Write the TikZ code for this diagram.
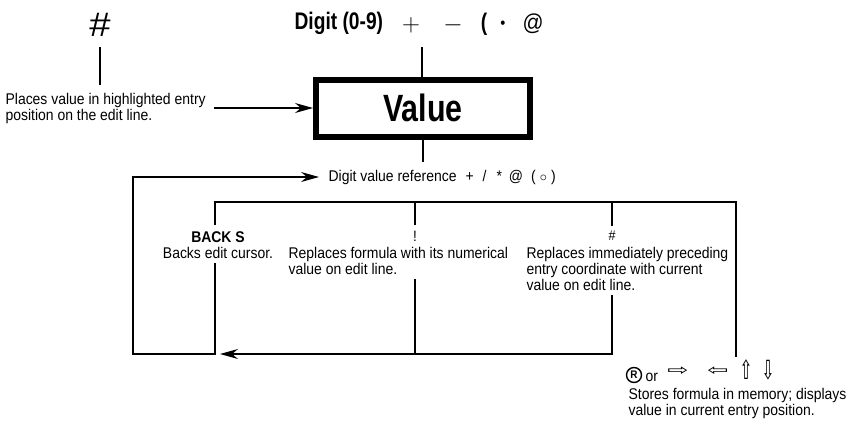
\documentclass[tikz,border=0pt]{standalone}
\usepackage{fontspec}
\setmainfont{Liberation Sans}[FakeStretch=0.9]
\newfontfamily\condfont{Liberation Sans}[FakeStretch=0.8]
\newfontfamily\symfont{DejaVu Sans}
\newfontfamily\lmfont{Latin Modern Roman}
\usetikzlibrary{arrows.meta}
\begin{document}
\begin{tikzpicture}[x=1pt,y=-1pt,line width=1.2pt,
  txt/.style={inner sep=0pt,font=\fontsize{15.5}{16}\selectfont,align=left},
  ctxt/.style={txt,align=center},
  sym/.style={inner sep=0pt},
  arr/.style={-{Stealth[length=18pt,width=10pt,inset=6pt]}}]
\fill[white] (0,0) rectangle (859,421);
\useasboundingbox (0,0) rectangle (859,421);

% ---- top part
\node[sym,font=\fontsize{34}{34}\selectfont] (hashT) at (100,25) {\scalebox{1.25}[1]{\#}};
\node[txt,anchor=west] (places) at (5,108) {Places value in highlighted entry\\position on the edit line.};
\node[draw,line width=6pt,minimum width=214pt,minimum height=57pt,inner sep=0pt,
      font=\bfseries\condfont\fontsize{38}{38}\selectfont] (value) at (423,108) {Value};
\node[sym,anchor=west,font=\condfont\bfseries\fontsize{24}{24}\selectfont] (digit) at (294,23) {Digit (0-9)};
\node[sym,font=\lmfont\fontsize{30}{30}\selectfont] (tplus) at (411,25) {$+$};
\node[sym,font=\lmfont\fontsize{30}{30}\selectfont] (tminus) at (453,25) {$-$};
\node[sym,font=\condfont\bfseries\fontsize{24}{24}\selectfont] (tparen) at (484,24) {(};
\node[sym,font=\fontsize{16}{16}\selectfont] (tdot) at (503,25) {\textbullet};
\node[sym,font=\fontsize{23}{23}\selectfont] (tat) at (533,24) {@};

\coordinate (hl1) at (100,47);
\coordinate (hl2) at (100,85);
\draw (hl1) -- (hl2);
\draw[arr] ([xshift=8pt]places.east) -- (value.west);
\coordinate (tl) at (422,47);
\draw (tl) -- (tl |- value.north);

% ---- digit value reference
\node[txt,anchor=west] (dvr) at (328,177) {Digit value reference\hspace{9pt}+\hspace{9pt}/\hspace{10pt}*\hspace{7pt}@\hspace{8pt}(\hspace{4pt}$\circ$\hspace{4pt})};
\coordinate (dvrTop) at (422,162);
\draw (value.south) -- (value.south |- dvrTop);

% ---- branch texts
\node[ctxt] (backs) at (218,245) {{\bfseries BACK S}\\Backs edit cursor.};
\node[sym,font=\fontsize{15}{15}\selectfont] (excl) at (415,236) {!};
\node[txt,anchor=west] (rf) at (288,261) {Replaces formula with its numerical\\value on edit line.};
\node[sym,font=\fontsize{14}{14}\selectfont] (hashR) at (612,236) {\#};
\node[txt,anchor=west] (ri) at (526,269) {Replaces immediately preceding\\entry coordinate with current\\value on edit line.};

\node[circle,draw,line width=1.4pt,inner sep=0.5pt,minimum size=15pt,font=\bfseries\fontsize{11}{11}\selectfont] (rsym) at (634,375) {R};
\node[txt,anchor=west] (orw) at (645,377) {or};
\node[sym,font=\symfont\fontsize{22}{22}\selectfont] (ar1) at (678,371) {\scalebox{1.15}[0.7]{⇨}};
\node[sym,font=\symfont\fontsize{22}{22}\selectfont] (ar2) at (718,371) {\scalebox{1.15}[0.7]{⇦}};
\node[sym,font=\symfont\fontsize{22}{22}\selectfont] (ar3) at (746,370) {\scalebox{0.7}[1.2]{⇧}};
\node[sym,font=\symfont\fontsize{22}{22}\selectfont] (ar4) at (768,370) {\scalebox{0.7}[1.2]{⇩}};
\node[txt,anchor=west] (stores) at (628,403) {Stores formula in memory; displays\\value in current entry position.};

% ---- connectors
\coordinate (hTopL) at (215,202);
\coordinate (hTopR) at (736,202);
\coordinate (exX) at (415,202);
\coordinate (hsX) at (612,202);
\coordinate (bot) at (0,354);
\coordinate (loopX) at (133,0);

\draw ([yshift=6pt]backs.north -| hTopL) -- (hTopL) -- (hTopR) -- (hTopR |- 0,357);
\draw (exX) -- ([yshift=5pt]excl.north);
\draw (hsX) -- ([yshift=5pt]hashR.north);
\draw ([yshift=-4pt]rf.south -| exX) -- (exX |- bot);
\draw[arr] ([yshift=-4pt]ri.south -| hsX) -- (hsX |- bot) -- ([xshift=5pt]hTopL |- bot);
\draw[arr] ([yshift=-4pt]backs.south -| hTopL) -- (hTopL |- bot) -| (loopX |- dvr.west) -- ([xshift=-9pt]dvr.west);
\end{tikzpicture}
\end{document}
